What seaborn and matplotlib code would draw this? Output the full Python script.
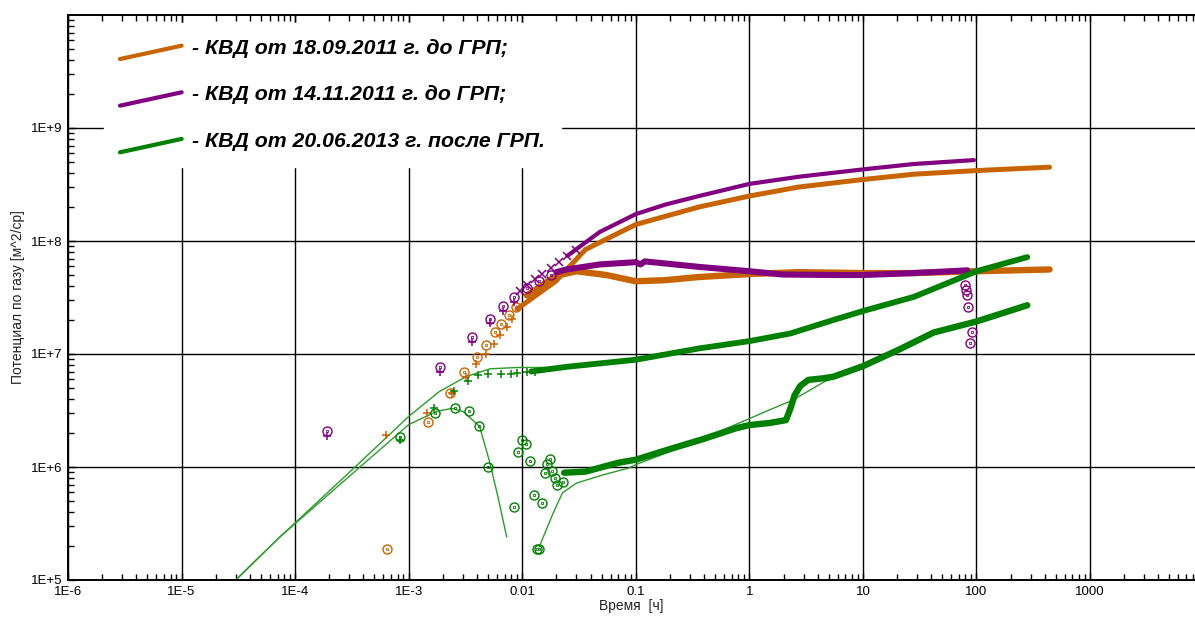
import matplotlib
matplotlib.use("Agg")
import matplotlib.pyplot as plt
import seaborn as sns
from matplotlib.lines import Line2D
from matplotlib.legend_handler import HandlerLine2D
from matplotlib.ticker import FixedLocator, FixedFormatter, LogLocator, NullFormatter

# ---- data (time in hours, potential in m^2/cp) ----
legend_labels = ["- КВД от 18.09.2011 г. до ГРП;",
                 "- КВД от 14.11.2011 г. до ГРП;",
                 "- КВД от 20.06.2013 г. после ГРП."]

x_ticks = [1e-6, 1e-5, 1e-4, 1e-3, 1e-2, 1e-1, 1, 10, 100, 1000]
x_tick_labels = ["1E-6", "1E-5", "1E-4", "1E-3", "0.01", "0.1", "1", "10", "100", "1000"]
y_ticks = [1e5, 1e6, 1e7, 1e8, 1e9]
y_tick_labels = ["1E+5", "1E+6", "1E+7", "1E+8", "1E+9"]

# 18.09.2011 (orange)
or_p_t_pts = [6.3e-4, 1.46e-3, 2.4e-3, 3.2e-3, 3.9e-3, 4.8e-3, 5.6e-3, 6.4e-3, 7.4e-3, 8.2e-3]
or_p_y_pts = [1.93e6, 3.0e6, 4.5e6, 6.3e6, 8.2e6, 1.0e7, 1.23e7, 1.48e7, 1.75e7, 2.05e7]
or_p_t = [0.009, 0.0197, 0.036, 0.1, 0.36, 1.0, 2.7, 10, 28, 100, 440]
or_p_y = [2.5e7, 4.4e7, 8.4e7, 1.4e8, 2.0e8, 2.5e8, 3.0e8, 3.5e8, 3.9e8, 4.2e8, 4.5e8]
or_d_t_pts = [6.5e-4, 1.48e-3, 2.3e-3, 3.1e-3, 4.0e-3, 4.8e-3, 5.7e-3, 6.5e-3, 7.6e-3, 8.9e-3]
or_d_y_pts = [1.9e5, 2.5e6, 4.5e6, 6.9e6, 9.5e6, 1.2e7, 1.55e7, 1.86e7, 2.2e7, 2.6e7]
or_d_t = [0.011, 0.0197, 0.03, 0.055, 0.1, 0.18, 0.36, 1.0, 2.7, 10, 28, 100, 440]
or_d_y = [3.3e7, 4.9e7, 5.4e7, 5.0e7, 4.4e7, 4.5e7, 4.8e7, 5.1e7, 5.3e7, 5.2e7, 5.2e7, 5.4e7, 5.6e7]

# 14.11.2011 (purple)
pu_d_t_pts = [1.9e-4, 1.9e-3, 3.6e-3, 5.2e-3, 6.8e-3, 8.5e-3, 0.011, 0.014, 0.018]
pu_d_y_pts = [2.1e6, 7.7e6, 1.4e7, 2.05e7, 2.65e7, 3.2e7, 3.8e7, 4.4e7, 5.0e7]
pu_p_t_pts = [1.9e-4, 1.9e-3, 3.6e-3, 5.2e-3, 6.8e-3, 8.5e-3]
pu_p_y_pts = [1.9e6, 7.0e6, 1.27e7, 1.87e7, 2.4e7, 2.9e7]
pu_x_t_pts = [0.0095, 0.011, 0.013, 0.015, 0.018, 0.021, 0.025, 0.03]
pu_x_y_pts = [3.6e7, 4.1e7, 4.6e7, 5.1e7, 5.8e7, 6.5e7, 7.3e7, 8.3e7]
pu_p_t = [0.025, 0.048, 0.1, 0.182, 0.36, 1.0, 2.7, 10, 28, 95]
pu_p_y = [7.4e7, 1.2e8, 1.73e8, 2.1e8, 2.5e8, 3.2e8, 3.7e8, 4.3e8, 4.8e8, 5.2e8]
pu_d_t = [0.02, 0.0246, 0.048, 0.1, 0.11, 0.12, 0.36, 1.0, 1.96, 5.5, 10, 28, 83]
pu_d_y = [5.3e7, 5.6e7, 6.2e7, 6.5e7, 6.2e7, 6.6e7, 5.9e7, 5.4e7, 5.05e7, 5.0e7, 5.0e7, 5.2e7, 5.5e7]
pu_tail_t = [80, 81, 83, 85, 92, 88]
pu_tail_y = [4.1e7, 3.7e7, 3.3e7, 2.6e7, 1.58e7, 1.25e7]

# 20.06.2013 (green)
gr_p_t_pts = [8.4e-4, 1.68e-3, 2.5e-3, 3.3e-3, 4.1e-3, 5.0e-3, 6.5e-3, 8.0e-3, 0.009, 0.011, 0.013]
gr_p_y_pts = [1.75e6, 3.35e6, 4.7e6, 5.8e6, 6.5e6, 6.7e6, 6.7e6, 6.6e6, 6.8e6, 7.0e6, 7.0e6]
gr_p_t = [0.012, 0.0246, 0.1, 0.36, 1.0, 2.3, 5.5, 10, 28, 100, 280]
gr_p_y = [7.0e6, 7.7e6, 8.9e6, 1.12e7, 1.3e7, 1.52e7, 2.0e7, 2.4e7, 3.2e7, 5.4e7, 7.2e7]
gr_d_t_pts = [8.4e-4, 1.7e-3, 2.56e-3, 3.4e-3, 4.2e-3, 5.0e-3, 8.5e-3, 9.2e-3, 0.01, 0.0107,
              0.0117, 0.0128, 0.0135, 0.014, 0.0148, 0.0158, 0.0164, 0.0176, 0.0182, 0.0195,
              0.0204, 0.023]
gr_d_y_pts = [1.86e6, 3.0e6, 3.35e6, 3.16e6, 2.3e6, 1.0e6, 4.4e5, 1.36e6, 1.74e6, 1.6e6,
              1.12e6, 5.6e5, 1.9e5, 1.9e5, 4.8e5, 8.9e5, 1.07e6, 1.18e6, 9.3e5, 8.0e5,
              7.0e5, 7.4e5]
gr_d_t = [0.0234, 0.036, 0.07, 0.1, 0.19, 0.38, 0.76, 1.0, 1.5, 2.1, 2.3, 2.5, 2.8, 3.3,
          4.5, 5.5, 10, 21, 42, 100, 280]
gr_d_y = [8.9e5, 9.1e5, 1.09e6, 1.16e6, 1.42e6, 1.75e6, 2.2e6, 2.35e6, 2.45e6, 2.6e6,
          3.3e6, 4.3e6, 5.2e6, 5.9e6, 6.1e6, 6.3e6, 7.8e6, 1.1e7, 1.55e7, 1.94e7, 2.7e7]
# model curves (thin)
mod_p_t = [3.0e-5, 7.2e-5, 3.3e-4, 1.0e-3, 1.86e-3, 3.2e-3, 5.2e-3, 9.2e-3, 0.02]
mod_p_y = [1.0e5, 2.36e5, 9.8e5, 2.8e6, 4.65e6, 6.3e6, 7.4e6, 7.6e6, 7.6e6]
mod_d_t = [3.0e-5, 7.2e-5, 3.3e-4, 1.0e-3, 1.75e-3, 2.4e-3, 3.0e-3, 4.2e-3, 5.1e-3, 6.0e-3, 7.3e-3]
mod_d_y = [1.0e5, 2.36e5, 9.0e5, 2.37e6, 3.1e6, 3.3e6, 3.1e6, 2.3e6, 1.16e6, 5.9e5, 2.4e5]
mod_d2_t = [0.0141, 0.0187, 0.0226, 0.030, 0.051, 0.087, 0.1, 0.3, 0.82, 1.5, 2.4, 4.6, 6, 10]
mod_d2_y = [1.96e5, 3.9e5, 5.9e5, 7.2e5, 8.5e5, 9.8e5, 1.05e6, 1.6e6, 2.46e6, 3.2e6, 3.9e6, 5.7e6, 6.3e6, 7.8e6]

ORANGE = "#C86400"
PURPLE = "#800080"
GREEN = "#008000"
MODEL_GREEN = "#2E9A2E"

sns.set_style("white")
plt.rcParams["font.family"] = ["Liberation Sans", "DejaVu Sans"]
plt.rcParams["text.color"] = "black"
plt.rcParams["axes.labelcolor"] = "#222222"
plt.rcParams["xtick.color"] = "black"
plt.rcParams["ytick.color"] = "black"

fig = plt.figure(figsize=(11.95, 6.21), dpi=100)
ax = fig.add_axes([68 / 1195, 41 / 621, 1127 / 1195, 565 / 621])
ax.set_xscale("log")
ax.set_yscale("log")


def circles(t, y, color):
    ax.plot(t, y, ls="none", marker="o", ms=6.5, mfc="none", mec=color, mew=1.0, zorder=3)
    ax.plot(t, y, ls="none", marker="s", ms=1.6, mfc="none", mec=color, mew=0.6, zorder=3)


def pluses(t, y, color, m="+"):
    ax.plot(t, y, ls="none", marker=m, ms=6, mec=color, mew=1.1, zorder=3)


# orange
circles(or_d_t_pts, or_d_y_pts, ORANGE)
pluses(or_p_t_pts, or_p_y_pts, ORANGE)
sns.lineplot(x=or_p_t, y=or_p_y, ax=ax, color=ORANGE, linewidth=3.6, sort=False)
sns.lineplot(x=or_d_t, y=or_d_y, ax=ax, color=ORANGE, linewidth=4.6, sort=False)

# purple
circles(pu_d_t_pts, pu_d_y_pts, PURPLE)
pluses(pu_p_t_pts, pu_p_y_pts, PURPLE)
pluses(pu_x_t_pts, pu_x_y_pts, PURPLE, m="x")
sns.lineplot(x=pu_p_t, y=pu_p_y, ax=ax, color=PURPLE, linewidth=3.0, sort=False)
sns.lineplot(x=pu_d_t, y=pu_d_y, ax=ax, color=PURPLE, linewidth=4.4, sort=False)
circles(pu_tail_t, pu_tail_y, PURPLE)

# green
sns.lineplot(x=mod_p_t, y=mod_p_y, ax=ax, color=MODEL_GREEN, linewidth=1.0, sort=False)
sns.lineplot(x=mod_d_t, y=mod_d_y, ax=ax, color=MODEL_GREEN, linewidth=1.0, sort=False)
sns.lineplot(x=mod_d2_t, y=mod_d2_y, ax=ax, color=MODEL_GREEN, linewidth=1.0, sort=False)
circles(gr_d_t_pts, gr_d_y_pts, GREEN)
pluses(gr_p_t_pts, gr_p_y_pts, GREEN)
sns.lineplot(x=gr_p_t, y=gr_p_y, ax=ax, color=GREEN, linewidth=4.2, sort=False)
sns.lineplot(x=gr_d_t, y=gr_d_y, ax=ax, color=GREEN, linewidth=4.6, sort=False)

ax.set_xlim(1e-6, 8.4e3)
ax.set_ylim(1e5, 1e10)

ax.xaxis.set_major_locator(FixedLocator(x_ticks))
ax.xaxis.set_major_formatter(FixedFormatter(x_tick_labels))
ax.yaxis.set_major_locator(FixedLocator(y_ticks))
ax.yaxis.set_major_formatter(FixedFormatter(y_tick_labels))
ax.xaxis.set_minor_locator(LogLocator(base=10, subs=range(2, 10), numticks=30))
ax.yaxis.set_minor_locator(LogLocator(base=10, subs=range(2, 10), numticks=30))
ax.xaxis.set_minor_formatter(NullFormatter())
ax.yaxis.set_minor_formatter(NullFormatter())

ax.grid(True, which="major", color="black", linewidth=1.0)
ax.tick_params(which="both", direction="in", top=True, bottom=True, left=True, right=False,
               colors="black", labelsize=9.5, pad=4)
ax.tick_params(which="major", length=5, width=1.0)
ax.tick_params(which="minor", length=4, width=1.0)
for side in ["left", "bottom", "top"]:
    ax.spines[side].set_color("black")
    ax.spines[side].set_linewidth(1.4)
ax.spines["right"].set_visible(False)

ax.set_xlabel("Время  [ч]", fontsize=10, labelpad=1)
ax.set_ylabel("Потенциал по газу [м^2/ср]", fontsize=10, labelpad=4)


class SlantHandler(HandlerLine2D):
    def create_artists(self, legend, orig_handle, xdescent, ydescent, width, height, fontsize, trans):
        line = Line2D([-xdescent, -xdescent + width],
                      [-ydescent - 0.35 * height, -ydescent + 0.55 * height])
        self.update_prop(line, orig_handle, legend)
        line.set_transform(trans)
        return [line]


handles = [Line2D([], [], color=c, linewidth=3.0) for c in (ORANGE, PURPLE, GREEN)]
leg = ax.legend(handles, legend_labels, loc="upper left", bbox_to_anchor=(0.032, 0.986),
                borderaxespad=0, frameon=True, fancybox=False, framealpha=1,
                facecolor="white", edgecolor="white", handlelength=2.9, handletextpad=0.5,
                labelspacing=1.3, borderpad=0.75,
                prop={"family": ["Liberation Sans", "DejaVu Sans"], "weight": "bold",
                      "style": "italic", "size": 15.3},
                handler_map={Line2D: SlantHandler()})
leg.set_zorder(5)
for txt in leg.get_texts():
    txt.set_color("black")

fig.savefig("out.png", dpi=100)
